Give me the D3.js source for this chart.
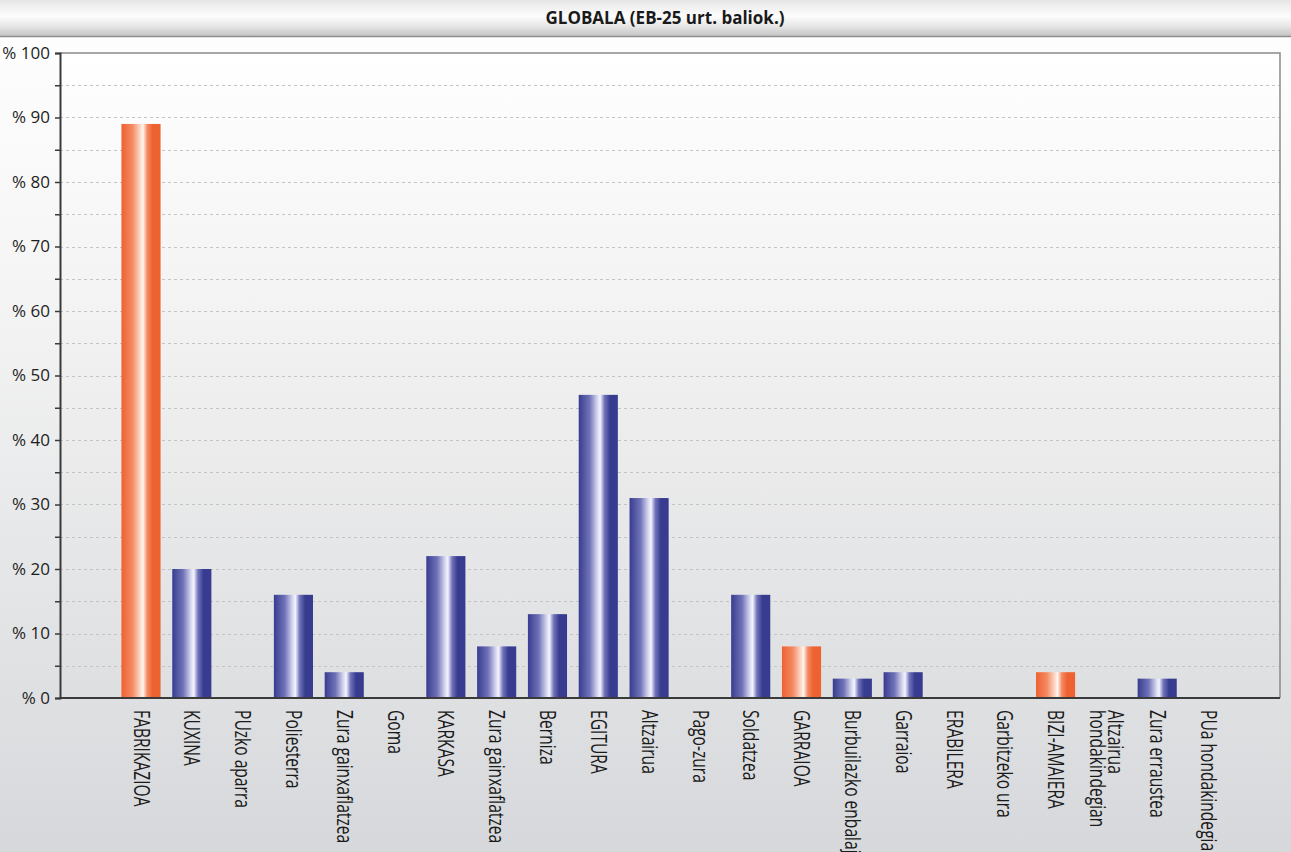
<!DOCTYPE html>
<html>
<head>
<meta charset="utf-8">
<script src="https://cdn.jsdelivr.net/npm/d3@7"></script>
<style>
  html, body { margin: 0; padding: 0; background: #fff; }
  svg { display: block; }
</style>
</head>
<body>
<svg id="chart" width="1291" height="852"></svg>
<script>
// Life-cycle stages and their share of the total impact (EU-25 normalised values)
const categories = [
  "FABRIKAZIOA", "KUXINA", "PUzko aparra", "Poliesterra", "Zura gainxaflatzea",
  "Goma", "KARKASA", "Zura gainxaflatzea ", "Berniza", "EGITURA", "Altzairua",
  "Pago-zura", "Soldatzea", "GARRAIOA", "Burbuilazko enbalajea", "Garraioa",
  "ERABILERA", "Garbitzeko ura", "BIZI-AMAIERA", "Altzairua hondakindegian",
  "Zura errausteа", "PUa hondakindegian"
];
const values = [89, 20, 0, 16, 4, 0, 22, 8, 13, 47, 31, 0, 16, 8, 3, 4, 0, 0, 4, 0, 3, 0];
// Phase headers are drawn in orange, their sub-items in blue
const phaseHeaders = ["FABRIKAZIOA", "GARRAIOA", "ERABILERA", "BIZI-AMAIERA"];
// Labels that wrap onto two lines
const labelLines = { "Altzairua hondakindegian": ["Altzairua", "hondakindegian"] };
const yTicks = [0, 10, 20, 30, 40, 50, 60, 70, 80, 90, 100];
const titleText = "GLOBALA (EB-25 urt. baliok.)";

const W = 1291, H = 852;
const plot = { left: 60, right: 1280, top: 53, bottom: 698 };

const svg = d3.select("#chart");
const defs = svg.append("defs");

// Page background: white fading to light grey
const bgGrad = defs.append("linearGradient").attr("id", "bgGrad")
  .attr("x1", 0).attr("y1", 0).attr("x2", 0).attr("y2", 1);
bgGrad.append("stop").attr("offset", "0%").attr("stop-color", "#ffffff");
bgGrad.append("stop").attr("offset", "30%").attr("stop-color", "#f6f6f6");
bgGrad.append("stop").attr("offset", "100%").attr("stop-color", "#d6d8db");

// Title bar gradient
const titleGrad = defs.append("linearGradient").attr("id", "titleGrad")
  .attr("x1", 0).attr("y1", 0).attr("x2", 0).attr("y2", 1);
titleGrad.append("stop").attr("offset", "0%").attr("stop-color", "#e6e6e6");
titleGrad.append("stop").attr("offset", "45%").attr("stop-color", "#fdfdfd");
titleGrad.append("stop").attr("offset", "75%").attr("stop-color", "#e4e4e4");
titleGrad.append("stop").attr("offset", "100%").attr("stop-color", "#c4c4c4");

// Cylinder-like bar shading
function barGradient(id, dark, mid, light, hi) {
  const g = defs.append("linearGradient").attr("id", id)
    .attr("x1", 0).attr("y1", 0).attr("x2", 1).attr("y2", 0);
  [[0, dark], [0.28, mid], [0.48, light], [0.55, hi], [0.66, mid], [0.8, dark], [1, dark]]
    .forEach(([o, c]) => g.append("stop").attr("offset", o).attr("stop-color", c));
}
barGradient("gradOrange", "#ee6130", "#f48a63", "#fcd9c8", "#fff6f0");
barGradient("gradBlue", "#383c90", "#7073b8", "#d8d9f0", "#f4f4ff");

svg.append("rect").attr("x", 0).attr("y", 0).attr("width", W).attr("height", H)
  .attr("fill", "url(#bgGrad)");

// Title bar
svg.append("rect").attr("x", 0).attr("y", 0).attr("width", W).attr("height", 36)
  .attr("fill", "url(#titleGrad)");
svg.append("line").attr("x1", 0).attr("x2", W).attr("y1", 36.5).attr("y2", 36.5)
  .attr("stroke", "#8e8e8e").attr("stroke-width", 1.5);
svg.append("text").attr("x", 665).attr("y", 24)
  .attr("text-anchor", "middle")
  .attr("font-family", "'Open Sans', sans-serif").attr("font-weight", 700)
  .attr("font-size", 17).attr("fill", "#1a1a1a")
  .text(titleText);

// Scales
const y = d3.scaleLinear().domain([0, 100]).range([plot.bottom, plot.top]);
const x = d3.scaleBand().domain(categories)
  .range([115.6, 1233.4]).paddingInner(0.23).paddingOuter(0.115);

// Plot panel
const panelGrad = defs.append("linearGradient").attr("id", "panelGrad")
  .attr("x1", 0).attr("y1", 0).attr("x2", 0).attr("y2", 1);
panelGrad.append("stop").attr("offset", "0%").attr("stop-color", "#ffffff");
panelGrad.append("stop").attr("offset", "45%").attr("stop-color", "#f1f1f1");
panelGrad.append("stop").attr("offset", "100%").attr("stop-color", "#dedfe1");
svg.append("rect").attr("x", plot.left).attr("y", plot.top)
  .attr("width", plot.right - plot.left).attr("height", plot.bottom - plot.top)
  .attr("fill", "url(#panelGrad)");

// Dashed grid every 5 units
const gridVals = d3.range(5, 100, 5);
svg.append("g").selectAll("line").data(gridVals).join("line")
  .attr("x1", plot.left).attr("x2", plot.right)
  .attr("y1", d => Math.round(y(d)) + 0.5).attr("y2", d => Math.round(y(d)) + 0.5)
  .attr("stroke", "#c4c4c4").attr("stroke-width", 1).attr("stroke-dasharray", "3,3");

// Frame: top and right border
svg.append("path")
  .attr("d", `M${plot.left},${y(100)}H${plot.right}V${plot.bottom}`)
  .attr("fill", "none").attr("stroke", "#8a8a8a").attr("stroke-width", 1.5);

// Bars
svg.append("g").selectAll("rect").data(categories.map((c, i) => ({ c, v: values[i] })))
  .join("rect")
  .attr("x", d => x(d.c))
  .attr("width", x.bandwidth())
  .attr("y", d => y(d.v))
  .attr("height", d => y(0) - y(d.v))
  .attr("fill", d => phaseHeaders.includes(d.c) ? "url(#gradOrange)" : "url(#gradBlue)");

// Y axis with minor ticks at every 5
const yAxisG = svg.append("g").attr("transform", `translate(${plot.left},0)`);
yAxisG.call(d3.axisLeft(y).tickValues(d3.range(0, 101, 5)).tickSize(5).tickFormat(""));
yAxisG.select(".domain").attr("stroke", "#3a3a3a").attr("stroke-width", 2);
yAxisG.selectAll(".tick line").attr("stroke", "#3a3a3a").attr("stroke-width", 1.5);
yAxisG.selectAll(".ytl").data(yTicks).join("text")
  .attr("class", "ytl")
  .attr("x", -10).attr("y", d => y(d))
  .attr("dy", "0.35em")
  .attr("text-anchor", "end")
  .attr("font-family", "'Open Sans', sans-serif")
  .attr("font-size", 17).attr("fill", "#1e1e1e")
  .text(d => "% " + d);

// X axis baseline
svg.append("line").attr("x1", plot.left - 1).attr("x2", plot.right)
  .attr("y1", plot.bottom).attr("y2", plot.bottom)
  .attr("stroke", "#3a3a3a").attr("stroke-width", 2);

// Rotated category labels (reading top to bottom)
const labelG = svg.append("g");
categories.forEach(c => {
  const lines = labelLines[c] || [c.trim()];
  const cx = x(c) + x.bandwidth() / 2;
  const t = labelG.append("text")
    .attr("transform", `translate(${cx},${plot.bottom + 12}) rotate(90) scale(1.04,1.4)`)
    .attr("font-family", "'Open Sans', sans-serif")
    .attr("font-size", 15).attr("fill", "#1a1a1a")
    .attr("text-anchor", "start");
  const off = (lines.length - 1) / 2;
  lines.forEach((ln, i) => {
    t.append("tspan").attr("x", 0)
      .attr("y", 0)
      .attr("dy", `${(i - off) * 0.9 + 0.35}em`)
      .text(ln);
  });
});
</script>
</body>
</html>
